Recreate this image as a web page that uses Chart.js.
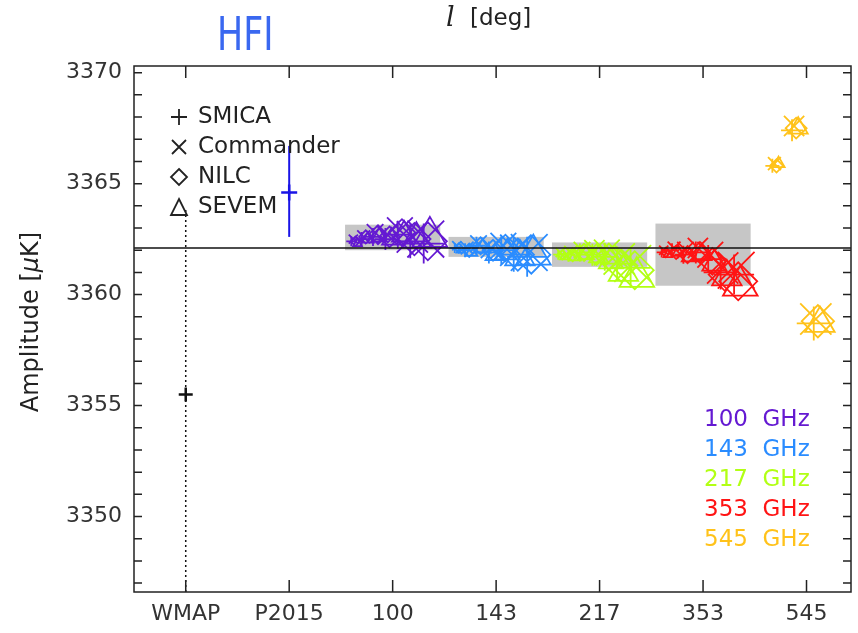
<!DOCTYPE html>
<html lang="en">
<head>
<meta charset="UTF-8">
<title>HFI | Dipole amplitude</title>
<script src="https://cdn.jsdelivr.net/npm/chart.js"></script>
<style>
  html, body { margin: 0; padding: 0; overflow: hidden; background: #ffffff; }
  .quadro { width: 858px; height: 633px; position: relative; }
  canvas { display: block; }
</style>
</head>
<body>
<div class="quadro"><canvas id="chartHFI"></canvas></div>
<script>
  // categories on the x axis
  const categories = ['WMAP', 'P2015', '100', '143', '217', '353', '545'];
  const methods = ['SMICA', 'Commander', 'NILC', 'SEVEM'];
  const freqLabels = ['100  GHz', '143  GHz', '217  GHz', '353  GHz', '545  GHz'];
  const freqColors = ['#6419d2', '#2a8cff', '#b2ff14', '#ff1414', '#ffc21a'];
  const yTickValues = [3350, 3355, 3360, 3365, 3370];

  // WMAP and Planck 2015 reference values (amplitude, error bar low / high)
  const refAmp = [3355.5, 3364.6];
  const refLow = [3346.6, 3362.6];
  const refHigh = [3363.9, 3366.7];

  // horizontal reference line and grey bands (100 .. 353 GHz)
  const refLine = 3362.1;
  const bandLow = [3362.0, 3361.7, 3361.25, 3360.4];
  const bandHigh = [3363.15, 3362.6, 3362.35, 3363.2];

  // offsets of the sub-samples inside each frequency, and marker sizes
  const offsets = [-0.37, -0.27, -0.16, -0.04, 0.08, 0.20, 0.33];
  const sizes = [5, 7, 9, 11, 14, 17, 20];
  const offsets545 = [-0.30, -0.11, 0.10];
  const sizes545 = [7, 11, 17];

  // amplitudes per method, one row per frequency (100, 143, 217, 353, 545)
  const ampSMICA = [
    [3362.4, 3362.5, 3362.6, 3362.5, 3362.7, 3362.4, 3362.3],
    [3362.1, 3362.0, 3362.2, 3361.9, 3362.0, 3361.8, 3361.7],
    [3361.8, 3361.8, 3361.9, 3361.8, 3361.7, 3361.4, 3361.2],
    [3361.9, 3362.0, 3361.8, 3361.9, 3361.6, 3361.0, 3360.9],
    [3365.8, 3367.4, 3358.7]
  ];
  const ampCommander = [
    [3362.5, 3362.6, 3362.8, 3362.7, 3362.9, 3362.6, 3362.5],
    [3362.2, 3362.1, 3362.3, 3362.1, 3362.2, 3362.0, 3361.9],
    [3361.9, 3361.9, 3362.0, 3362.0, 3361.9, 3361.6, 3361.4],
    [3362.0, 3362.1, 3362.0, 3362.1, 3361.8, 3361.2, 3361.1],
    [3365.9, 3367.6, 3358.9]
  ];
  const ampNILC = [
    [3362.4, 3362.6, 3362.7, 3362.6, 3362.8, 3362.5, 3362.4],
    [3362.1, 3362.0, 3362.2, 3362.0, 3362.1, 3361.8, 3361.8],
    [3361.8, 3361.8, 3361.9, 3361.8, 3361.7, 3361.3, 3361.1],
    [3361.9, 3361.9, 3361.8, 3361.9, 3361.5, 3360.9, 3360.6],
    [3365.8, 3367.5, 3358.8]
  ];
  const ampSEVEM = [
    [3362.3, 3362.5, 3362.6, 3362.5, 3362.7, 3362.5, 3362.6],
    [3362.0, 3361.9, 3362.1, 3361.8, 3361.9, 3361.7, 3361.8],
    [3361.7, 3361.7, 3361.8, 3361.7, 3361.5, 3361.0, 3360.8],
    [3361.8, 3361.9, 3361.7, 3361.8, 3361.4, 3360.8, 3360.4],
    [3365.9, 3367.5, 3358.7]
  ];

  const methodAmps = [ampSMICA, ampCommander, ampNILC, ampSEVEM];
  const methodStyles = ['cross', 'crossRot', 'rectRot', 'triangle'];
  const methodShift = [-0.03, -0.01, 0.01, 0.03];
  const methodScale = [1, 1.3, 0.95, 1];

  const xMin = -0.5, xMax = 6.43;
  const yMin = 3346.6, yMax = 3370.3;
  const bandHalf = 0.46;

  const textFont = '"DejaVu Sans", sans-serif';

  // building the datasets
  let datasets = [];

  // horizontal line (drawn on top)
  datasets.push({
    data: [{ x: xMin, y: refLine }, { x: xMax, y: refLine }],
    showLine: true, borderColor: '#111111', borderWidth: 1.6,
    pointRadius: 0, order: 0
  });

  // WMAP dotted error bar + point
  datasets.push({
    data: [{ x: 0, y: refLow[0] }, { x: 0, y: refHigh[0] }],
    showLine: true, borderColor: '#111111', borderWidth: 1.5, borderDash: [2, 3],
    pointRadius: 0, order: 1
  });
  datasets.push({
    data: [{ x: 0, y: refAmp[0] }],
    pointStyle: 'cross', pointRadius: 7, borderColor: '#111111',
    pointBorderWidth: 2.5, order: 1
  });

  // P2015 error bar + point
  datasets.push({
    data: [{ x: 1, y: refLow[1] }, { x: 1, y: refHigh[1] }],
    showLine: true, borderColor: '#1a14e6', borderWidth: 2,
    pointRadius: 0, order: 1
  });
  datasets.push({
    data: [{ x: 1, y: refAmp[1] }],
    pointStyle: 'cross', pointRadius: 8, borderColor: '#1a14e6',
    pointBorderWidth: 2.5, order: 1
  });

  // frequency groups, one dataset per frequency and method
  for (let f = 0; f < freqLabels.length; f++) {
    const offs = f == 4 ? offsets545 : offsets;
    const sz = f == 4 ? sizes545 : sizes;
    for (let m = 0; m < methods.length; m++) {
      const values = methodAmps[m][f];
      let points = [];
      let radii = [];
      for (let i = 0; i < values.length; i++) {
        points.push({ x: 2 + f + offs[i] + methodShift[m], y: values[i] });
        radii.push(sz[i] * methodScale[m]);
      }
      datasets.push({
        data: points,
        pointStyle: methodStyles[m],
        pointRadius: radii,
        borderColor: freqColors[f],
        backgroundColor: 'rgba(0,0,0,0)',
        pointBorderWidth: 1.8,
        order: 2
      });
    }
  }

  function drawSymbol(ctx, style, cx, cy, r) {
    ctx.beginPath();
    if (style == 'cross') {
      ctx.moveTo(cx - r, cy); ctx.lineTo(cx + r, cy);
      ctx.moveTo(cx, cy - r); ctx.lineTo(cx, cy + r);
    } else if (style == 'crossRot') {
      ctx.moveTo(cx - r, cy - r); ctx.lineTo(cx + r, cy + r);
      ctx.moveTo(cx + r, cy - r); ctx.lineTo(cx - r, cy + r);
    } else if (style == 'rectRot') {
      ctx.moveTo(cx, cy - r); ctx.lineTo(cx + r, cy);
      ctx.lineTo(cx, cy + r); ctx.lineTo(cx - r, cy); ctx.closePath();
    } else {
      ctx.moveTo(cx, cy - r); ctx.lineTo(cx + r, cy + r);
      ctx.lineTo(cx - r, cy + r); ctx.closePath();
    }
    ctx.stroke();
  }

  // grey bands, frame, inward ticks and the texts
  const decorations = {
    id: 'decorations',
    beforeDatasetsDraw(chart) {
      const { ctx, scales: { x, y } } = chart;
      ctx.save();
      ctx.fillStyle = '#c6c6c6';
      for (let i = 0; i < bandLow.length; i++) {
        const left = x.getPixelForValue(2 + i - bandHalf);
        const right = x.getPixelForValue(2 + i + bandHalf);
        const top = y.getPixelForValue(bandHigh[i]);
        const bottom = y.getPixelForValue(bandLow[i]);
        ctx.fillRect(left, top, right - left, bottom - top);
      }
      ctx.restore();
    },
    afterDraw(chart) {
      const { ctx, chartArea: a, scales: { x, y } } = chart;
      ctx.save();
      ctx.strokeStyle = '#222222';
      ctx.lineWidth = 1.5;
      ctx.strokeRect(a.left, a.top, a.right - a.left, a.bottom - a.top);

      // y ticks every unit, both sides
      ctx.beginPath();
      for (let v = 3347; v <= 3370; v++) {
        const py = y.getPixelForValue(v);
        ctx.moveTo(a.left, py); ctx.lineTo(a.left + 8, py);
        ctx.moveTo(a.right, py); ctx.lineTo(a.right - 8, py);
      }
      // x ticks top and bottom
      for (let i = 0; i < categories.length; i++) {
        const px = x.getPixelForValue(i);
        ctx.moveTo(px, a.top); ctx.lineTo(px, a.top + 12);
        ctx.moveTo(px, a.bottom); ctx.lineTo(px, a.bottom - 12);
      }
      ctx.stroke();

      // method legend
      ctx.fillStyle = '#222222';
      ctx.lineWidth = 1.8;
      ctx.font = '23px ' + textFont;
      ctx.textBaseline = 'middle';
      for (let m = 0; m < methods.length; m++) {
        const cy = 117 + m * 30;
        drawSymbol(ctx, methodStyles[m], 179, cy, m == 1 ? 7 : 8);
        ctx.fillText(methods[m], 198, cy);
      }

      // frequency legend
      for (let f = 0; f < freqLabels.length; f++) {
        ctx.fillStyle = freqColors[f];
        ctx.fillText(freqLabels[f], 704, 420 + f * 30);
      }

      // HFI label
      ctx.save();
      ctx.fillStyle = '#3a68f0';
      ctx.font = '47px ' + textFont;
      ctx.textBaseline = 'alphabetic';
      ctx.translate(217, 50);
      ctx.scale(0.74, 1);
      ctx.fillText('HFI', 0, 0);
      ctx.restore();

      // top title  l [deg]
      ctx.fillStyle = '#222222';
      ctx.textBaseline = 'middle';
      ctx.font = 'italic 27px "DejaVu Serif", serif';
      ctx.fillText('l', 446, 19);
      ctx.font = '23px ' + textFont;
      ctx.fillText('[deg]', 470, 19);

      // y axis title
      ctx.save();
      ctx.translate(32, 322);
      ctx.rotate(-Math.PI / 2);
      ctx.textAlign = 'left';
      ctx.font = '24px ' + textFont;
      const p1 = 'Amplitude [';
      const w1 = ctx.measureText(p1).width;
      ctx.font = 'italic 24px ' + textFont;
      const w2 = ctx.measureText('\u03bc').width;
      ctx.font = '24px ' + textFont;
      const w3 = ctx.measureText('K]').width;
      let sx = -(w1 + w2 + w3) / 2;
      ctx.fillText(p1, sx, 0);
      ctx.font = 'italic 24px ' + textFont;
      ctx.fillText('\u03bc', sx + w1, 0);
      ctx.font = '24px ' + textFont;
      ctx.fillText('K]', sx + w1 + w2, 0);
      ctx.restore();

      ctx.restore();
    }
  };

  const config = {
    type: 'scatter',
    data: { datasets: datasets },
    options: {
      responsive: true,
      maintainAspectRatio: false,
      animation: false,
      layout: { autoPadding: false, padding: { top: 66, right: 7, left: 0, bottom: 0 } },
      plugins: { legend: { display: false }, tooltip: { enabled: false } },
      scales: {
        x: {
          type: 'linear', min: xMin, max: xMax,
          grid: { display: false, drawTicks: false }, border: { display: false },
          afterBuildTicks: (scale) => { scale.ticks = categories.map((c, i) => ({ value: i })); },
          afterFit: (scale) => { scale.height = 41; scale.paddingLeft = 0; scale.paddingRight = 0; },
          ticks: {
            autoSkip: false, maxRotation: 0, padding: 9,
            color: '#333333', font: { family: 'DejaVu Sans', size: 22 },
            callback: (v) => categories[v]
          }
        },
        y: {
          type: 'linear', min: yMin, max: yMax,
          grid: { display: false, drawTicks: false }, border: { display: false },
          afterBuildTicks: (scale) => { scale.ticks = yTickValues.map(v => ({ value: v })); },
          afterFit: (scale) => { scale.width = 134; scale.paddingTop = 0; scale.paddingBottom = 0; },
          ticks: {
            padding: 12, color: '#333333',
            font: { family: 'DejaVu Sans', size: 22 },
            callback: (v) => String(v)
          }
        }
      }
    },
    plugins: [decorations]
  };

  new Chart(document.getElementById('chartHFI'), config);
</script>
</body>
</html>
